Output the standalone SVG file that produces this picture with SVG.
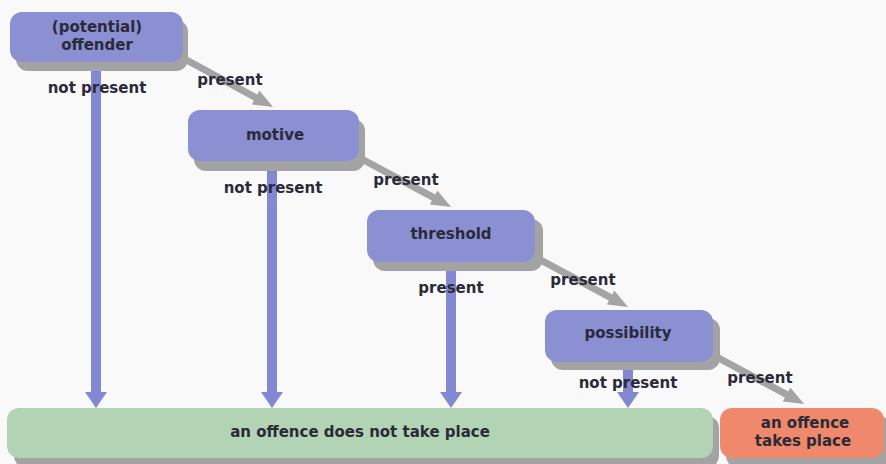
<svg xmlns="http://www.w3.org/2000/svg" width="886" height="464" viewBox="0 0 886 464">
  <defs>
    <marker id="grayHead" markerUnits="userSpaceOnUse" markerWidth="20" markerHeight="16" refX="4" refY="8" orient="auto">
      <path d="M0,0 L20,8 L0,16 z" fill="#a4a4a4"/>
    </marker>
  </defs>
  <style>
    .bg { fill: #f9f9f9; }
    .shadow { fill: #a3a3a3; }
    .blue { fill: #8b90d3; }
    .green { fill: #b3d3b5; }
    .orange { fill: #f0896c; }
    .diag { stroke: #a4a4a4; stroke-width: 7; fill: none; marker-end: url(#grayHead); }
    .down { fill: #8388d2; }
    text { font-family: "DejaVu Sans", Verdana, "Liberation Sans", sans-serif; font-weight: bold; font-size: 15px; fill: #2a2a38; text-anchor: middle; }
  </style>
  <rect class="bg" x="0" y="0" width="886" height="464"/>

  <g id="connectors">
    <line class="diag" x1="181" y1="57" x2="259" y2="99.4"/>
    <line class="diag" x1="358" y1="157" x2="437" y2="199.4"/>
    <line class="diag" x1="535" y1="257" x2="614" y2="299.4"/>
    <line class="diag" x1="713" y1="355" x2="790" y2="396.4"/>
    <polygon class="down" points="91,62 101,62 101,392 107,392 96,408 85,392 91,392"/>
    <polygon class="down" points="267,160 277,160 277,392 283,392 272,408 261,392 267,392"/>
    <polygon class="down" points="446,260 456,260 456,392 462,392 451,408 440,392 446,392"/>
    <polygon class="down" points="623,360 633,360 633,392 639,392 628,408 617,392 623,392"/>
  </g>

  <g id="offender">
    <rect class="shadow" x="16" y="20" width="172" height="51" rx="12"/>
    <rect class="blue" x="10" y="12" width="173" height="50" rx="12"/>
    <text x="97" y="32">(potential)</text>
    <text x="97" y="50">offender</text>
  </g>
  <g id="motive">
    <rect class="shadow" x="194" y="119" width="171" height="52" rx="12"/>
    <rect class="blue" x="188" y="110" width="171" height="51" rx="12"/>
    <text x="275" y="140">motive</text>
  </g>
  <g id="threshold">
    <rect class="shadow" x="373" y="219" width="170" height="52" rx="12"/>
    <rect class="blue" x="367" y="210" width="168" height="52" rx="12"/>
    <text x="451" y="239">threshold</text>
  </g>
  <g id="possibility">
    <rect class="shadow" x="551" y="318" width="169" height="52" rx="12"/>
    <rect class="blue" x="545" y="310" width="168" height="52" rx="12"/>
    <text x="628" y="338">possibility</text>
  </g>
  <g id="no-offence">
    <rect class="shadow" x="14" y="416" width="705" height="52" rx="12"/>
    <rect class="green" x="7" y="408" width="706" height="50" rx="12"/>
    <text x="360" y="437">an offence does not take place</text>
  </g>
  <g id="offence">
    <rect class="shadow" x="726" y="416" width="165" height="52" rx="12"/>
    <rect class="orange" x="720" y="408" width="164" height="50" rx="12"/>
    <text x="805" y="428">an offence</text>
    <text x="803" y="446">takes place</text>
  </g>

  <g id="labels">
    <text x="97" y="93">not present</text>
    <text x="230" y="85">present</text>
    <text x="273" y="193">not present</text>
    <text x="406" y="185">present</text>
    <text x="451" y="293">present</text>
    <text x="583" y="285">present</text>
    <text x="628" y="388">not present</text>
    <text x="760" y="383">present</text>
  </g>
</svg>
